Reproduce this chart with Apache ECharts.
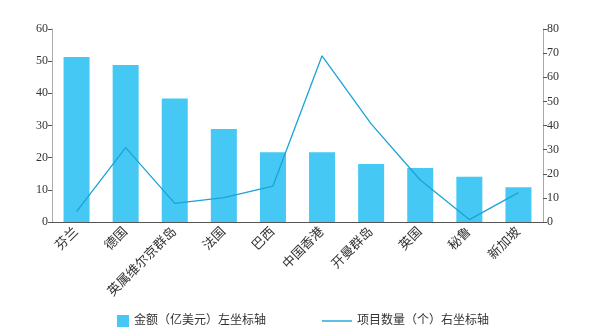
<!DOCTYPE html>
<html><head><meta charset="utf-8">
<script src="https://cdn.jsdelivr.net/npm/echarts@6/dist/echarts.min.js"></script>
<style>html,body{margin:0;padding:0;background:#fff}#c{width:596px;height:336px}</style>
</head><body><div id="c"></div>
<script>
const categories = ['芬兰','德国','英属维尔京群岛','法国','巴西','中国香港','开曼群岛','英国','秘鲁','新加坡'];
const amountValues = [51.3, 48.8, 38.4, 28.9, 21.7, 21.7, 18.0, 16.8, 14.1, 10.8];
const projectCounts = [4.3, 30.8, 7.7, 10.1, 14.9, 68.9, 40.7, 17.4, 1, 12.2];
const leftTicks = {min: 0, max: 60, interval: 10};
const rightTicks = {min: 0, max: 80, interval: 10};
const seriesNames = ['金额（亿美元）左坐标轴', '项目数量（个）右坐标轴'];

const font = "'Liberation Serif','DejaVu Serif','Noto Sans CJK SC',serif";
const chart = echarts.init(document.getElementById('c'));
const legendText = {fontFamily: font, fontSize: 12, color: '#333'};
chart.setOption({
  animation: false,
  textStyle: {fontFamily: font},
  grid: {left: 52, right: 53, top: 29, bottom: 114},
  legend: [
    {top: 310, left: 112, itemWidth: 12, itemHeight: 12, itemGap: 4, textStyle: legendText,
     data: [{name: seriesNames[0], icon: 'rect'}]},
    {top: 310, left: 317, itemWidth: 30, itemHeight: 12, textStyle: legendText,
     data: [{name: seriesNames[1], icon: 'path://M0,0L30,0L30,1.4L0,1.4Z'}]}
  ],
  xAxis: {
    type: 'category', data: categories,
    axisLine: {lineStyle: {color: '#555', width: 1}},
    axisTick: {inside: true, length: 4, lineStyle: {color: '#555'}},
    axisLabel: {rotate: 45, fontSize: 13, color: '#333', margin: 8, interval: 0, fontFamily: font}
  },
  yAxis: [
    {type: 'value', ...leftTicks, splitLine: {show: false},
     axisLine: {show: true, lineStyle: {color: '#aaa'}},
     axisTick: {show: true, length: 4, lineStyle: {color: '#555'}},
     axisLabel: {fontSize: 12, color: '#333', margin: 4, fontFamily: font}},
    {type: 'value', ...rightTicks, splitLine: {show: false},
     axisLine: {show: true, lineStyle: {color: '#aaa'}},
     axisTick: {show: true, length: 4, lineStyle: {color: '#555'}},
     axisLabel: {fontSize: 12, color: '#333', margin: 4, fontFamily: font}}
  ],
  series: [
    {name: seriesNames[0], type: 'bar', data: amountValues, barWidth: 26, itemStyle: {color: '#45c8f3'}},
    {name: seriesNames[1], type: 'line', yAxisIndex: 1, data: projectCounts, symbol: 'none',
     lineStyle: {color: '#1ba3d8', width: 1.3}, itemStyle: {color: '#1ba3d8'}}
  ]
});
</script></body></html>
